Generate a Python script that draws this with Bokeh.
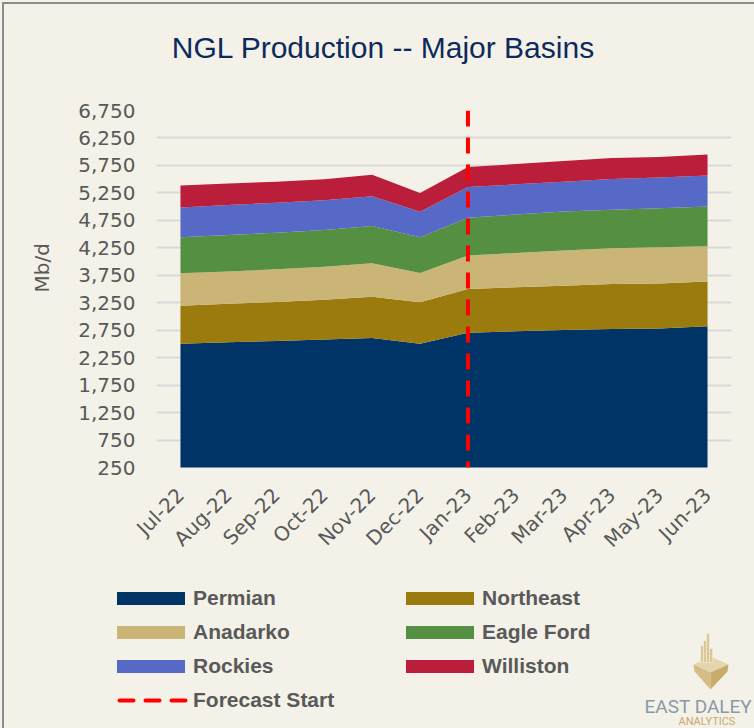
import math
from bokeh.plotting import figure
from bokeh.models import (ColumnDataSource, FactorRange, Range1d, FixedTicker,
                          NumeralTickFormatter, Legend, LegendItem, Title, Label)
from bokeh.embed import file_html
from bokeh.resources import INLINE

# ---------------- data ----------------
months = ["Jul-22", "Aug-22", "Sep-22", "Oct-22", "Nov-22", "Dec-22",
          "Jan-23", "Feb-23", "Mar-23", "Apr-23", "May-23", "Jun-23"]
permian = [2505, 2530, 2555, 2580, 2610, 2505, 2705, 2730, 2755, 2770, 2780, 2820]
northeast = [690, 700, 710, 725, 750, 755, 795, 800, 805, 820, 820, 815]
anadarko = [590, 590, 595, 600, 610, 530, 610, 625, 640, 650, 660, 645]
eagle_ford = [655, 665, 665, 670, 675, 650, 685, 700, 710, 705, 710, 720]
rockies = [545, 545, 545, 540, 545, 465, 560, 550, 545, 560, 560, 565]
williston = [400, 390, 385, 385, 390, 345, 365, 370, 375, 380, 375, 385]
basins = ["Permian", "Northeast", "Anadarko", "Eagle Ford", "Rockies", "Williston"]
forecast_month = "Jan-23"
forecast_label = "Forecast Start"
y_ticks = [250, 750, 1250, 1750, 2250, 2750, 3250, 3750, 4250, 4750, 5250, 5750, 6250, 6750]
title_text = "NGL Production -- Major Basins"
y_title = "Mb/d"
logo_name = "EAST DALEY"
logo_sub = "ANALYTICS"

# logo decoration shapes (footer pixel space, y up)
logo_faces_x = [[693, 710, 728, 710], [693, 710, 710, 694], [710, 728, 727, 710]]
logo_faces_y = [[64, 72, 64, 56], [64, 56, 39, 57], [56, 64, 57, 39]]
logo_face_colors = ["#E4D5AC", "#D4BC84", "#C8AC6C"]
logo_bar_left = [700, 703, 706, 709]
logo_bar_right = [703, 706, 709, 712]
logo_bar_top = [83, 88, 95, 80]
logo_bar_bottom = [66, 66, 66, 66]

# ---------------- style ----------------
BG = "#F4F2E8"
GRAY = "#595959"
colors = ["#003366", "#9B7A0E", "#CAB577", "#558F42", "#5669C6", "#BB1E3A"]
W = 754
HEAD_H, MAIN_H, FOOT_H = 90, 485, 153


def blank(height):
    f = figure(width=W, height=height, x_range=Range1d(0, W), y_range=Range1d(0, height),
               x_axis_type=None, y_axis_type=None, output_backend="svg",
               toolbar_location=None, min_border=0, background_fill_color=BG,
               border_fill_color=BG, outline_line_color=None)
    f.grid.visible = False
    return f


# ---------------- header ----------------
head = blank(HEAD_H)
head.add_layout(Label(x=383, y=HEAD_H - 47, text=title_text, text_align="center",
                      text_baseline="middle", text_color="#0D2A5E",
                      text_font="Liberation Sans", text_font_size="30px"))

# ---------------- main chart ----------------
src = ColumnDataSource(dict(month=months, Permian=permian, Northeast=northeast,
                            Anadarko=anadarko, **{"Eagle Ford": eagle_ford},
                            Rockies=rockies, Williston=williston))

p = figure(x_range=FactorRange(factors=months), y_range=Range1d(y_ticks[0], y_ticks[-1]),
           width=W, height=MAIN_H, output_backend="svg", toolbar_location=None,
           min_border_left=156, min_border_right=23, min_border_top=20, min_border_bottom=108,
           background_fill_color=BG, border_fill_color=BG, outline_line_color=None)

p.varea_stack(stackers=basins, x="month", source=src, color=colors)
p.line(x=[forecast_month, forecast_month], y=[y_ticks[-1], y_ticks[0]],
       line_color="#FF0000", line_width=4, line_dash="16 11")

p.yaxis.ticker = FixedTicker(ticks=y_ticks)
p.yaxis.formatter = NumeralTickFormatter(format="0,0")
for ax in (p.xaxis[0], p.yaxis[0]):
    ax.axis_line_color = None
    ax.major_tick_line_color = None
    ax.minor_tick_line_color = None
    ax.major_tick_out = 0
    ax.major_tick_in = 0
    ax.major_label_text_color = GRAY
    ax.major_label_text_font = "DejaVu Sans"
    ax.major_label_text_font_size = "20px"
p.yaxis.major_label_standoff = 21
p.xaxis.major_label_orientation = math.pi / 4
p.xaxis.major_label_standoff = 24
p.ygrid.grid_line_color = "#D9D9D9"
p.ygrid.grid_line_width = 2
p.xgrid.grid_line_color = None

p.add_layout(Title(text=y_title, align="left", offset=175, standoff=40,
                   vertical_align="top", text_font="DejaVu Sans", text_font_style="normal",
                   text_font_size="20px", text_color=GRAY), "left")

# ---------------- footer: legend + logo ----------------
foot = blank(FOOT_H)
leg_renderers = [foot.varea(x=[-50, -40], y1=[-50, -50], y2=[-40, -40], fill_color=c)
                 for c in colors]
leg_renderers.append(foot.line(x=[-50, -40], y=[-50, -50], line_color="#FF0000",
                               line_width=4, line_dash="14 12", line_dash_offset=15,
                               line_cap="round"))
items = [LegendItem(label=lab, renderers=[r])
         for lab, r in zip(basins + [forecast_label], leg_renderers)]
legend = Legend(items=items, location=(108, 16), orientation="horizontal", ncols=2,
                glyph_width=85, glyph_height=16, label_standoff=0, label_width=194,
                spacing=10, padding=0, margin=0, background_fill_alpha=0,
                border_line_color=None, label_text_color=GRAY,
                label_text_font="Liberation Sans", label_text_font_style="bold",
                label_text_font_size="21px")
foot.add_layout(legend)

for fx, fy, fc in zip(logo_faces_x, logo_faces_y, logo_face_colors):
    foot.patch(x=fx, y=fy, fill_color=fc, line_color=None)
foot.quad(left=logo_bar_left, right=logo_bar_right, top=logo_bar_top,
          bottom=logo_bar_bottom, fill_color="#DCC79A", line_color=BG, line_width=0.5)
foot.add_layout(Label(x=644, y=FOOT_H - 131, text=logo_name, text_baseline="middle",
                      text_color="#8A99A8", text_font="Roboto", text_font_size="19px"))
foot.add_layout(Label(x=678, y=FOOT_H - 146, text=logo_sub, text_baseline="middle",
                      text_color="#C9A96A", text_font="Roboto", text_font_size="11px"))

page_style = """{% block postamble %}<style>
html, body { background: #F4F2E8; }
body::after { content: ""; position: fixed; left: 2px; top: 2px; width: 2000px;
  height: 2000px; border: 2px solid #8C8C8C; pointer-events: none; z-index: 100; }
</style>{% endblock %}"""

roots = [head, p, foot]
try:
    html = file_html(roots, INLINE, template=page_style)
except Exception:
    html = file_html(roots, INLINE)
open("out.html", "w").write(html)
